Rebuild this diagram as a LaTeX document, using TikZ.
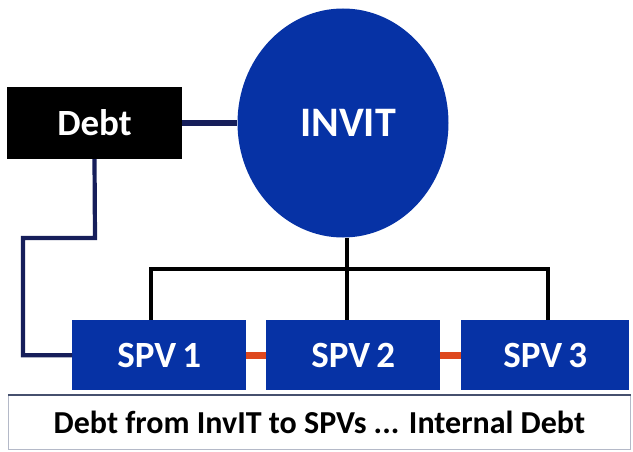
\documentclass[tikz,border=0pt]{standalone}
\usetikzlibrary{shapes.geometric}
\usepackage{fontspec}
\setmainfont{Carlito}
\definecolor{invblue}{RGB}{6,50,165}
\definecolor{navyline}{RGB}{22,30,90}
\definecolor{redline}{RGB}{222,72,30}
\definecolor{frame}{RGB}{180,185,200}
\definecolor{topline}{RGB}{70,80,110}
\begin{document}
\begin{tikzpicture}[x=1pt,y=-1pt,
  spvbox/.style={fill=invblue, draw=none, minimum width=174pt, minimum height=70pt, text=white, font=\bfseries\fontsize{37}{40}\selectfont, inner sep=0pt},
  tree/.style={line width=3.4pt, black},
  navy/.style={line width=6pt, navyline},
  redc/.style={line width=7pt, redline}]
\useasboundingbox (0,0) rectangle (633,452);
\node[ellipse, minimum width=211pt, minimum height=229pt, fill=invblue, inner sep=0pt] (invit) at (343,123) {};
\node[text=white, font=\bfseries\fontsize{42}{44}\selectfont] (invitlbl) at (348,123) {INVIT};
\node[fill=black, minimum width=175pt, minimum height=72pt, inner sep=0pt, text=white, font=\bfseries\fontsize{37}{40}\selectfont] (debt) at (94.5,123) {Debt};
\node[spvbox, anchor=north west] (spv1) at (72,320) {SPV\,1};
\node[spvbox, anchor=north west] (spv2) at (266,320) {SPV\,2};
\node[spvbox, anchor=north west, minimum width=168pt] (spv3) at (461,320) {SPV\,3};
% tree
\coordinate (jn) at (347,269);
\coordinate (cb) at (347,238);
\draw[tree] (cb) -- (spv2.north -| cb);
\draw[tree, line join=miter] (spv1.north -| 151,0) |- (jn) -| (spv3.north -| 548,0);
% debt links
\draw[navy] (debt.east) -- (invit.west);
\coordinate (d1) at (95,238);
\coordinate (d2) at (23,238);
\draw[navyline, line width=4.2pt] (debt.south) -- (d1) -- (d2) |- (spv1.west);
% red links
\draw[redc] (spv1.east) -- (spv2.west);
\draw[redc] (spv2.east) -- (spv3.west);
% bottom box
\node[draw=frame, line width=0.8pt, minimum width=622pt, minimum height=54pt, inner sep=0pt, anchor=north west, font=\bfseries\fontsize{32}{34}\selectfont] (note) at (8,395) {Debt from InvIT to SPVs ... Internal Debt};
\draw[line width=2.5pt, topline] (note.north west) -- (note.north east);
\end{tikzpicture}
\end{document}
